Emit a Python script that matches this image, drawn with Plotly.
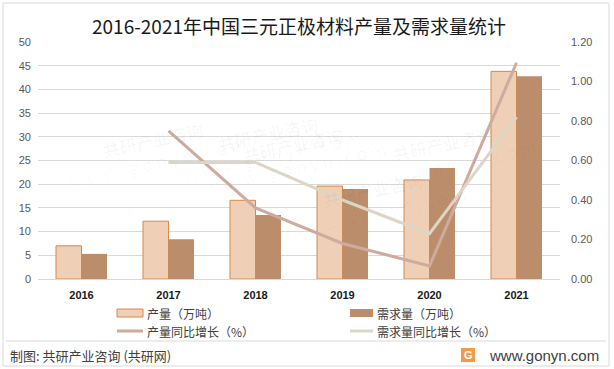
import plotly.graph_objects as go
from plotly.subplots import make_subplots

years = ["2016", "2017", "2018", "2019", "2020", "2021"]
production = [7.0, 12.2, 16.6, 19.6, 20.9, 43.8]
demand = [5.3, 8.4, 13.5, 19.0, 23.4, 42.8]
prod_growth = [None, 0.75, 0.36, 0.18, 0.066, 1.095]
demand_growth = [None, 0.59, 0.59, 0.40, 0.23, 0.82]

left_ticks = list(range(0, 51, 5))
right_ticks = [0, 0.2, 0.4, 0.6, 0.8, 1.0, 1.2]

W, H = 614, 369
L, R, T, B = 38, 560, 42, 279


def px(x):
    return (x - L) / (R - L)


def py(y):
    return (B - y) / (B - T)


C_PROD = "#EFD0B6"
C_PROD_EDGE = "#D6884A"
C_DEM = "#BC8D6B"
C_PG = "#CFAB9F"
C_DG = "#DDD6C4"
FONT = "Noto Sans CJK SC"

fig = make_subplots(specs=[[{"secondary_y": True}]])
fig.add_trace(go.Bar(x=years, y=production, name="产量（万吨）", marker=dict(color=C_PROD, line=dict(color=C_PROD_EDGE, width=1)), showlegend=False), secondary_y=False)
fig.add_trace(go.Bar(x=years, y=demand, name="需求量（万吨）", marker=dict(color=C_DEM, line=dict(width=0)), showlegend=False), secondary_y=False)
fig.add_trace(go.Scatter(x=years, y=prod_growth, name="产量同比增长（%）", mode="lines", line=dict(color=C_PG, width=3), showlegend=False), secondary_y=True)
fig.add_trace(go.Scatter(x=years, y=demand_growth, name="需求量同比增长（%）", mode="lines", line=dict(color=C_DG, width=3), showlegend=False), secondary_y=True)

fig.update_layout(
    width=W, height=H,
    margin=dict(l=L, r=W - R, t=T, b=H - B, autoexpand=False),
    paper_bgcolor="white", plot_bgcolor="white",
    barmode="group", bargap=0.414, bargroupgap=0,
    font=dict(family=FONT, color="#595959"),
    title=dict(text="2016-2021年中国三元正极材料产量及需求量统计", x=0.5, xref="paper", xanchor="center",
               y=1 - 27 / H, yanchor="middle", font=dict(size=19, color="#1a1a1a", family=FONT)),
)
fig.update_xaxes(type="category", domain=[0, 1], showgrid=False, showline=False, ticks="", automargin=False,
                 tickfont=dict(size=11, color="#1a1a1a", family="Liberation Sans"), ticklabelstandoff=8,
                 ticktext=["<b>%s</b>" % y for y in years], tickvals=years)
fig.update_yaxes(range=[0, 50], tickvals=left_ticks, showgrid=True, gridcolor="#D9D9D9", gridwidth=1,
                 zeroline=True, zerolinecolor="#D9D9D9", zerolinewidth=1, automargin=False,
                 tickfont=dict(size=11, color="#595959", family="Liberation Sans"), ticklabelstandoff=6,
                 secondary_y=False)
fig.update_yaxes(range=[0, 1.2], tickvals=right_ticks, tickformat=".2f", showgrid=False, zeroline=False,
                 automargin=False,
                 tickfont=dict(size=11, color="#595959", family="Liberation Sans"), ticklabelstandoff=10,
                 secondary_y=True)

shapes = []
annotations = []

# legend
Y1, Y2 = 313, 331
shapes.append(dict(type="rect", xref="paper", yref="paper", x0=px(117), x1=px(143), y0=py(Y1 + 4), y1=py(Y1 - 4),
                   fillcolor=C_PROD, line=dict(color=C_PROD_EDGE, width=1)))
shapes.append(dict(type="rect", xref="paper", yref="paper", x0=px(350), x1=px(373), y0=py(Y1 + 4), y1=py(Y1 - 4),
                   fillcolor=C_DEM, line=dict(width=0)))
shapes.append(dict(type="line", xref="paper", yref="paper", x0=px(117), x1=px(143), y0=py(Y2), y1=py(Y2),
                   line=dict(color=C_PG, width=3)))
shapes.append(dict(type="line", xref="paper", yref="paper", x0=px(350), x1=px(373), y0=py(Y2), y1=py(Y2),
                   line=dict(color=C_DG, width=3)))
for text, x, y in [("产量（万吨）", 145, Y1), ("需求量（万吨）", 375, Y1),
                   ("产量同比增长（%）", 145, Y2), ("需求量同比增长（%）", 375, Y2)]:
    annotations.append(dict(text=text, xref="paper", yref="paper", x=px(x), y=py(y), xanchor="left",
                            yanchor="middle", showarrow=False, font=dict(size=12, color="#404040", family=FONT)))

# footer
shapes.append(dict(type="line", xref="paper", yref="paper", x0=px(6), x1=px(606), y0=py(341), y1=py(341),
                   line=dict(color="#D9D9D9", width=1)))
shapes.append(dict(type="rect", xref="paper", yref="paper", x0=px(3), x1=px(609), y0=py(366), y1=py(3),
                   fillcolor="rgba(0,0,0,0)", line=dict(color="#D9D9D9", width=1)))
annotations.append(dict(text="制图: 共研产业咨询 (共研网)", xref="paper", yref="paper", x=px(8), y=py(355),
                        xanchor="left", yanchor="middle", showarrow=False,
                        font=dict(size=13, color="#404040", family=FONT)))
shapes.append(dict(type="rect", xref="paper", yref="paper", x0=px(461), x1=px(475), y0=py(362), y1=py(348),
                   fillcolor="#F39A4A", line=dict(width=0)))
annotations.append(dict(text="<b>G</b>", xref="paper", yref="paper", x=px(468), y=py(355),
                        xanchor="center", yanchor="middle", showarrow=False,
                        font=dict(size=11, color="white", family="Liberation Sans")))
annotations.append(dict(text="www.gonyn.com", xref="paper", yref="paper", x=px(601), y=py(355),
                        xanchor="right", yanchor="middle", showarrow=False,
                        font=dict(size=15, color="#404040", family="Liberation Sans")))

# faint watermarks
for (wx, wy) in [(200, 200), (270, 100), (470, 245), (60, 150), (540, 110)]:
    annotations.append(dict(text="<b>共研产业咨询</b><br>w w w . g o n y n . c o m", xref="paper", yref="paper",
                            x=px(wx), y=py(wy), showarrow=False, textangle=-12,
                            font=dict(size=17, color="rgba(0,0,0,0.03)", family=FONT)))

fig.update_layout(shapes=shapes, annotations=annotations)
fig.write_html("out.html", config={"displayModeBar": False},
               post_script="document.body.style.margin='0px';document.body.style.overflow='hidden';")
